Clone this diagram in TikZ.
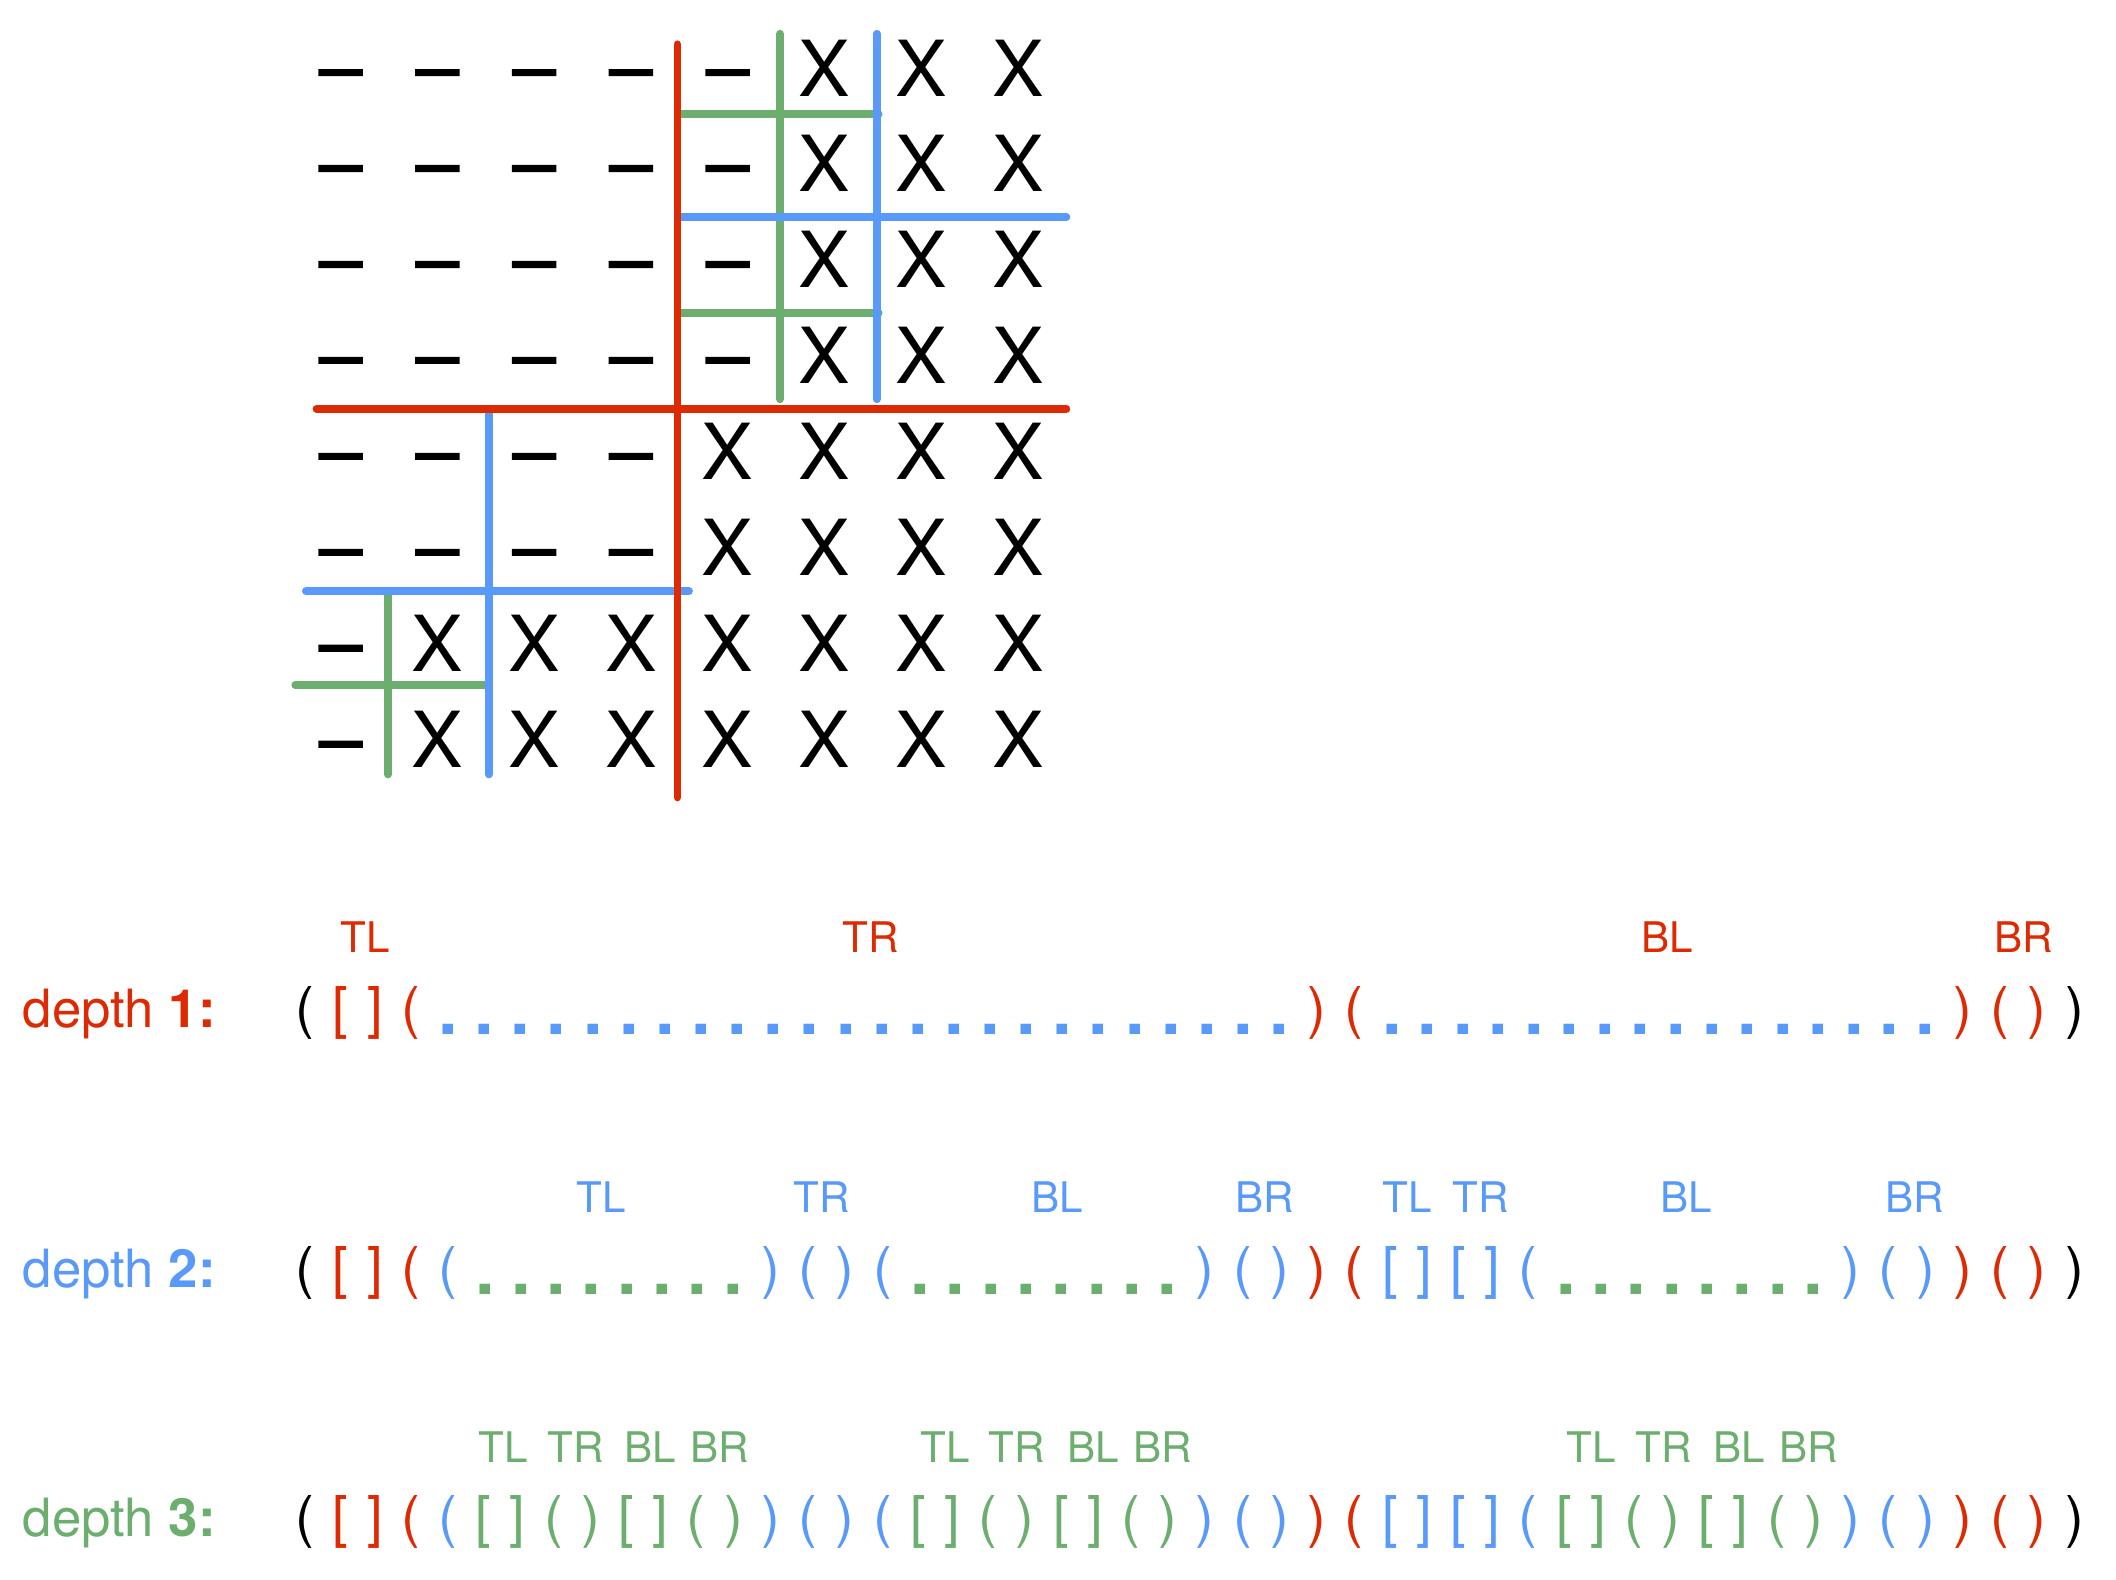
\documentclass[tikz,border=0pt]{standalone}
\usepackage{fontspec}
\setmainfont{TeX Gyre Heros}
\usepackage{xcolor}
\usetikzlibrary{positioning}
\definecolor{qred}{RGB}{221,42,3}
\definecolor{qblue}{RGB}{88,153,250}
\definecolor{qgreen}{RGB}{107,174,110}

\newcommand\Kc[1]{\textcolor{black}{#1}}
\newcommand\Rc[1]{\textcolor{qred}{#1}}
\newcommand\Bc[1]{\textcolor{qblue}{#1}}
\newcommand\Gc[1]{\textcolor{qgreen}{#1}}
\newcommand\leafs{\Gc{[ ] ( ) [ ] ( )}}
\newcommand\trpart{\Bc{(} \leafs{} \Bc{) ( ) (} \leafs{} \Bc{) ( )}}
\newcommand\blpart{\Bc{[ ] [ ] (} \leafs{} \Bc{) ( )}}
\newcommand\rowfont{\fontsize{16}{16}\selectfont\spaceskip=5.27pt\relax}
\newlength\dotw
\newcommand\dotrun[3]{\settowidth\dotw{#3}\makebox[\dotw][l]{\color{#1}\fontsize{20}{20}\selectfont\bfseries
  \foreach \i in {1,...,#2}{\ifnum\i>1 \hfill\fi\raisebox{-1.9pt}{.}}}}

\begin{document}
\begin{tikzpicture}[
  cell/.style={font=\fontsize{22}{22}\selectfont, inner sep=0pt, text height=15.8pt, text depth=0pt, anchor=center},
  cut/.style={line width=2.2pt, line cap=round},
  brow/.style={font=\rowfont, inner sep=0pt, anchor=base west},
  part/.style={font=\fontsize{12}{12}\selectfont, inner sep=0pt, anchor=base},
  level/.style={font=\fontsize{15}{15}\selectfont, inner sep=0pt, anchor=base west}]
\useasboundingbox (0,0) rectangle (21.16,15.80);

\begin{scope}[x=0.9676cm, y=-0.9595cm, shift={(3.407cm,15.117cm)}]
\foreach \r/\n in {0/5,1/5,2/5,3/5,4/4,5/4,6/1,7/1}{
  \foreach \c in {0,...,7}{
    \ifnum\c<\n
      \node[cell] (g\r\c) at (\c,\r) {\raisebox{0.6pt}{\addfontfeature{FakeBold=2}–}};
    \else
      \node[cell] (g\r\c) at (\c,\r) {X};
    \fi
  }
}
\draw[cut,qgreen] (4.54,-0.36) -- (4.54,3.45);
\draw[cut,qgreen] (3.52,0.48) -- (5.56,0.48);
\draw[cut,qgreen] (3.52,2.55) -- (5.56,2.55);
\draw[cut,qgreen] (0.49,5.45) -- (0.49,7.36);
\draw[cut,qgreen] (-0.47,6.43) -- (1.53,6.43);
\draw[cut,qblue] (5.54,-0.36) -- (5.54,3.45);
\draw[cut,qblue] (3.52,1.55) -- (7.5,1.55);
\draw[cut,qblue] (1.53,3.55) -- (1.53,7.36);
\draw[cut,qblue] (-0.36,5.45) -- (3.6,5.45);
\draw[cut,qred] (3.48,-0.25) -- (3.48,7.6);
\draw[cut,qred] (-0.25,3.55) -- (7.5,3.55);
\end{scope}

\node[level,qred] (d1) at (0.22,5.52) {depth \textbf{1:}};
\node[level,qblue] (d2) at (0.22,2.92) {depth \textbf{2:}};
\node[level,qgreen] (d3) at (0.22,0.43) {depth \textbf{3:}};

\node[brow] (r1) at (2.95,5.52) {\Kc{(} \Rc{[ ] (} \dotrun{qblue}{24}{\trpart} \Rc{) (} \dotrun{qblue}{16}{\blpart} \Rc{) ( )} \Kc{)}};
\node[brow] (r2) at (2.95,2.92) {\Kc{(} \Rc{[ ] (} \Bc{(} \dotrun{qgreen}{8}{\leafs} \Bc{) ( ) (} \dotrun{qgreen}{8}{\leafs} \Bc{) ( )} \Rc{) (} \Bc{[ ] [ ] (} \dotrun{qgreen}{8}{\leafs} \Bc{) ( )} \Rc{) ( )} \Kc{)}};
\node[brow] (r3) at (2.95,0.43) {\Kc{(} \Rc{[ ] (} \trpart{} \Rc{) (} \blpart{} \Rc{) ( )} \Kc{)}};

\node[part,qred] (p1a) at (3.65,6.27) {TL};
\node[part,qred] (p1b) at (8.71,6.27) {TR};
\node[part,qred] (p1c) at (16.67,6.27) {BL};
\node[part,qred] (p1d) at (20.24,6.27) {BR};

\node[part,qblue] (p2a) at (6.01,3.67) {TL};
\node[part,qblue] (p2b) at (8.22,3.67) {TR};
\node[part,qblue] (p2c) at (10.57,3.67) {BL};
\node[part,qblue] (p2d) at (12.65,3.67) {BR};
\node[part,qblue] (p2e) at (14.07,3.67) {TL};
\node[part,qblue] (p2f) at (14.81,3.67) {TR};
\node[part,qblue] (p2g) at (16.86,3.67) {BL};
\node[part,qblue] (p2h) at (19.15,3.67) {BR};

\node[part,qgreen] (p3a) at (5.03,1.17) {TL};
\node[part,qgreen] (p3b) at (5.76,1.17) {TR};
\node[part,qgreen] (p3c) at (6.50,1.17) {BL};
\node[part,qgreen] (p3d) at (7.20,1.17) {BR};
\node[part,qgreen] (p3e) at (9.45,1.17) {TL};
\node[part,qgreen] (p3f) at (10.17,1.17) {TR};
\node[part,qgreen] (p3g) at (10.93,1.17) {BL};
\node[part,qgreen] (p3h) at (11.63,1.17) {BR};
\node[part,qgreen] (p3i) at (15.91,1.17) {TL};
\node[part,qgreen] (p3j) at (16.64,1.17) {TR};
\node[part,qgreen] (p3k) at (17.39,1.17) {BL};
\node[part,qgreen] (p3l) at (18.09,1.17) {BR};
\end{tikzpicture}
\end{document}
